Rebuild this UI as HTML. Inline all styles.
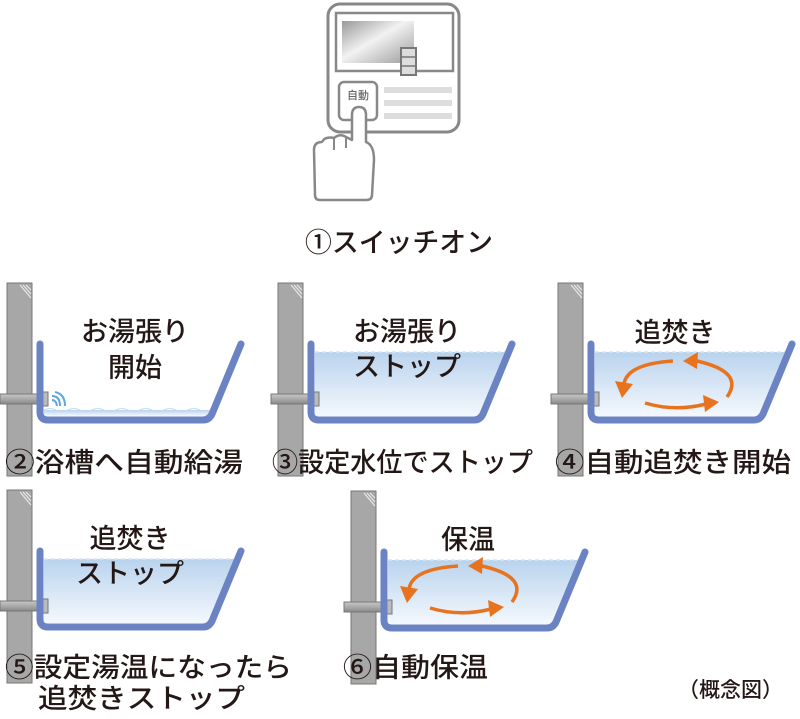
<!DOCTYPE html>
<html><head><meta charset="utf-8"><style>
html,body{margin:0;padding:0;background:#fff;}
svg text{font-family:"Liberation Sans","Noto Sans CJK JP",sans-serif;fill:#231815;font-weight:500;}
</style></head><body>
<svg width="800" height="714" viewBox="0 0 800 714" xmlns="http://www.w3.org/2000/svg">
<defs>
<linearGradient id="wat" x1="0" y1="0" x2="0" y2="1"><stop offset="0" stop-color="#b9d3ee"/><stop offset="1" stop-color="#f4f8fd"/></linearGradient>
<linearGradient id="scr" x1="0" y1="0" x2="1" y2="1"><stop offset="0" stop-color="#999"/><stop offset="0.45" stop-color="#f2f2f2"/><stop offset="1" stop-color="#9a9a9a"/></linearGradient>
<linearGradient id="pipe" x1="0" y1="0" x2="0" y2="1"><stop offset="0" stop-color="#c8c8c8"/><stop offset="0.5" stop-color="#aaa"/><stop offset="1" stop-color="#888"/></linearGradient>
<g id="wall">
<rect x="7" y="283" width="25" height="193" fill="#a7a7a7" stroke="#777" stroke-width="1"/>
<path d="M20 285 L31 298 M23 285 L31 294 M26 285 L31 290" stroke="#eee" stroke-width="1"/>
</g>
<g id="pipe1"><rect x="0" y="394" width="46" height="10" fill="url(#pipe)" stroke="#777" stroke-width="1"/><rect x="43" y="392" width="5" height="14" fill="#bbb" stroke="#777" stroke-width="1"/></g>
<path id="tubline" d="M40 344 L40 412 Q40 420 48 420 L203 420 Q209 420 212 414 L241 344" fill="none" stroke="#6b83c3" stroke-width="7" stroke-linecap="round" stroke-linejoin="round"/>
<g id="fullwater">
<path d="M44 352 L238 352 L210 416 L44 416 Z" fill="url(#wat)"/>
<path d="M44 352 L238 352" stroke="#d8e6f5" stroke-width="1.5" stroke-dasharray="4 3"/>
</g>
<g id="arrows">
<g fill="none" stroke="#e8731e" stroke-width="3.5">
<path d="M673 361 Q627 364 624 384"/>
<path d="M645 403 Q675 412 706 404"/>
<path d="M727 397 Q745 372 697 361"/>
</g>
<g fill="#e8731e">
<path d="M615 381 L633 384 L622 398 Z"/>
<path d="M703 395 L705 412 L719 402 Z"/>
<path d="M698 352 L697 369 L683 361 Z"/>
</g>
</g>
</defs>

<!-- controller -->
<rect x="328" y="4" width="131" height="128" rx="12" fill="#fff" stroke="#888" stroke-width="3"/>
<rect x="336" y="13" width="117" height="58" fill="#fff" stroke="#888" stroke-width="2.5"/>
<rect x="342" y="21" width="72" height="42" fill="url(#scr)"/>
<rect x="401" y="48" width="15" height="27" fill="#ddd" stroke="#777" stroke-width="2"/>
<line x1="401" y1="57" x2="416" y2="57" stroke="#777" stroke-width="1.5"/>
<line x1="401" y1="66" x2="416" y2="66" stroke="#777" stroke-width="1.5"/>
<rect x="339" y="82" width="38" height="38" rx="5" fill="#fff" stroke="#888" stroke-width="2.5"/>
<text x="358" y="99" font-size="11" text-anchor="middle" style="fill:#666">自動</text>
<rect x="384" y="87" width="68" height="6" fill="#ddd"/>
<rect x="384" y="100" width="68" height="6" fill="#ddd"/>
<rect x="384" y="113" width="68" height="6" fill="#ddd"/>
<path d="M352 140 L352 115 Q352 107 359 107 Q366 107 366 115 L366 142 Q374 145 374 160 L372 195 Q372 200 366 200 L320 200 Q315 200 315 195 L314 150 Q314 142 322 142 Q325 136 334 138 Q340 133 346 137 Z" fill="#fff" stroke="#888" stroke-width="2.5" stroke-linejoin="round"/>
<path d="M334 138 L334 150 M346 137 L346 148" stroke="#888" stroke-width="2" fill="none"/>
<text x="305" y="252" font-size="27" textLength="188" lengthAdjust="spacingAndGlyphs">①スイッチオン</text>

<!-- tub 1 -->
<g>
<path d="M44 410 L214 410 L210 416 L44 416 Z" fill="url(#wat)"/>
<path d="M44 410 Q50 407 56 410 T68 410 T80 410 T92 410 T104 410 T116 410 T128 410 T140 410 T152 410 T164 410 T176 410 T188 410 T200 410" stroke="#c4daf0" fill="none" stroke-width="1"/>
<use href="#wall"/><use href="#pipe1"/><use href="#tubline"/>
<path d="M52 396 Q60 396 60 406 M52 400 Q56 400 57 406 M55 392 Q65 394 65 406" stroke="#5aa8e0" stroke-width="2" fill="none"/>
<text x="135" y="341" font-size="27" text-anchor="middle">お湯張り</text>
<text x="135" y="377" font-size="27" text-anchor="middle">開始</text>
</g>
<text x="5" y="472" font-size="27" textLength="238" lengthAdjust="spacingAndGlyphs">②浴槽へ自動給湯</text>

<!-- tub 2 -->
<g transform="translate(271,0)"><use href="#fullwater"/><use href="#wall"/><use href="#pipe1"/><use href="#tubline"/></g>
<text x="407" y="341" font-size="27" text-anchor="middle">お湯張り</text>
<text x="407" y="376" font-size="27" text-anchor="middle">ストップ</text>
<text x="272" y="472" font-size="27" textLength="261" lengthAdjust="spacingAndGlyphs">③設定水位でストップ</text>

<!-- tub 3 -->
<g transform="translate(551,0)"><use href="#fullwater"/><use href="#wall"/><use href="#pipe1"/><use href="#tubline"/></g>
<text x="675" y="342" font-size="27" text-anchor="middle">追焚き</text>
<use href="#arrows"/>
<text x="555" y="472" font-size="27" textLength="236" lengthAdjust="spacingAndGlyphs">④自動追焚き開始</text>

<!-- tub 5 -->
<g transform="translate(0,207)"><use href="#fullwater"/><use href="#wall"/><use href="#pipe1"/><use href="#tubline"/></g>
<text x="130" y="548" font-size="27" text-anchor="middle">追焚き</text>
<text x="130" y="583" font-size="27" text-anchor="middle">ストップ</text>
<text x="5" y="677" font-size="27" textLength="287" lengthAdjust="spacingAndGlyphs">⑤設定湯温になったら</text>
<text x="38" y="708" font-size="27" textLength="207" lengthAdjust="spacingAndGlyphs">追焚きストップ</text>

<!-- tub 6 -->
<g transform="translate(344,208)"><use href="#fullwater"/><use href="#wall"/><use href="#pipe1"/><use href="#tubline"/></g>
<text x="468" y="549" font-size="27" text-anchor="middle">保温</text>
<g transform="translate(-215,205)"><use href="#arrows"/></g>
<text x="343" y="677" font-size="27" textLength="145" lengthAdjust="spacingAndGlyphs">⑥自動保温</text>

<text x="678" y="697" font-size="21">（概念図）</text>
</svg>
</body></html>
